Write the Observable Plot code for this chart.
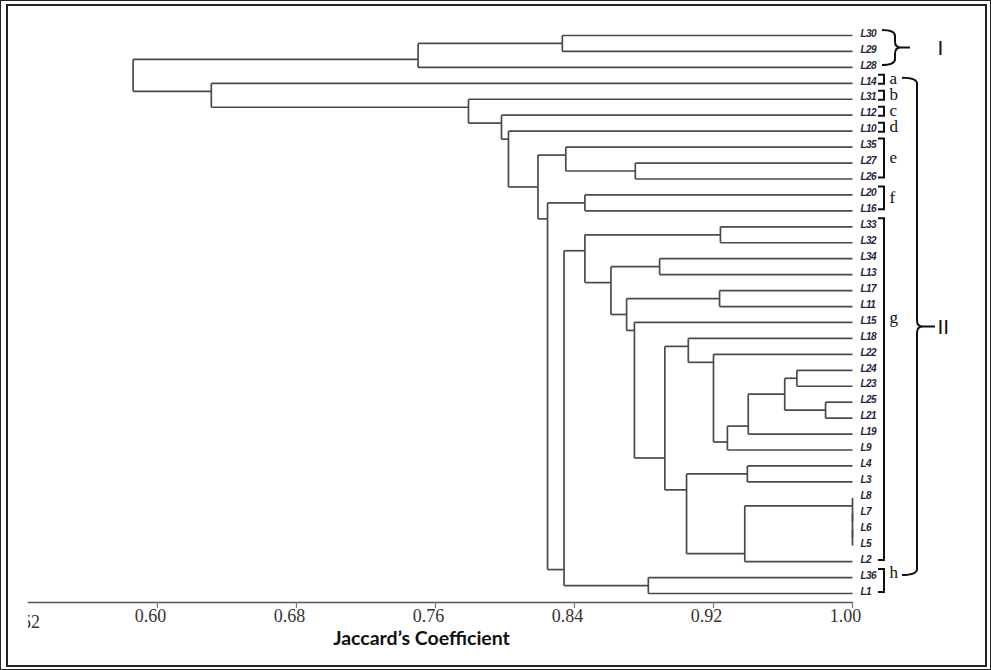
<!DOCTYPE html>
<html><head><meta charset="utf-8">
<script src="https://cdn.jsdelivr.net/npm/d3@7"></script>
<script src="https://cdn.jsdelivr.net/npm/@observablehq/plot@0.6"></script>
<style>
html,body{margin:0;padding:0;background:#fff;}
#wrap{position:relative;width:991px;height:670px;overflow:hidden;}
#wrap svg{position:absolute;left:0;top:0;}
.b1{position:absolute;left:0;top:0;width:991px;height:670px;box-sizing:border-box;border:1px solid #222;pointer-events:none;}
.b2{position:absolute;left:6px;top:4px;right:4px;bottom:3px;border:2px solid #222;pointer-events:none;}
.leaflabels text{letter-spacing:-0.6px;}
</style></head><body><div id="wrap"></div>
<script>
// Leaf order, top to bottom
const leaves = ["L30","L29","L28","L14","L31","L12","L10","L35","L27","L26","L20","L16",
  "L33","L32","L34","L13","L17","L11","L15","L18","L22","L24","L23","L25","L21","L19","L9",
  "L4","L3","L8","L7","L6","L5","L2","L36","L1"];
// Merges: [node, first child, second child, Jaccard similarity]
const merges = [
  ["n1","L30","L29",0.833],
  ["I","n1","L28",0.750],
  ["n2","L27","L26",0.875],
  ["e","L35","n2",0.835],
  ["f","L20","L16",0.846],
  ["n3","L33","L32",0.924],
  ["n4","L34","L13",0.889],
  ["n5","L17","L11",0.9235],
  ["n6","L24","L23",0.968],
  ["n7","L25","L21",0.9845],
  ["n8","n6","n7",0.961],
  ["n9","n8","L19",0.940],
  ["n10","n9","L9",0.928],
  ["n11","L22","n10",0.920],
  ["n12","L18","n11",0.9055],
  ["n13","L4","L3",0.9395],
  ["n14","L6","L5",1.00],
  ["n15","L7","n14",1.00],
  ["n16","L8","n15",1.00],
  ["n17","n16","L2",0.938],
  ["n18","n13","n17",0.9045],
  ["n19","n12","n18",0.892],
  ["n20","L15","n19",0.8745],
  ["n21","n5","n20",0.870],
  ["n22","n4","n21",0.861],
  ["g","n3","n22",0.846],
  ["h","L36","L1",0.8825],
  ["n23","g","h",0.834],
  ["n24","f","n23",0.8245],
  ["n25","e","n24",0.819],
  ["n26","L10","n25",0.802],
  ["n27","L12","n26",0.798],
  ["n28","L31","n27",0.779],
  ["II","L14","n28",0.631],
  ["root","I","II",0.586]
];
const groups = [
  {label:"a", first:"L14", last:"L14"},
  {label:"b", first:"L31", last:"L31"},
  {label:"c", first:"L12", last:"L12"},
  {label:"d", first:"L10", last:"L10"},
  {label:"e", first:"L35", last:"L26"},
  {label:"f", first:"L20", last:"L16"},
  {label:"g", first:"L33", last:"L2", at:"L15"},
  {label:"h", first:"L36", last:"L1", at:"L36"}
];
const clusters = [
  {label:"I", first:"L30", last:"L28"},
  {label:"II", first:"L14", last:"L36"}
];
const ticks = [0.60, 0.68, 0.76, 0.84, 0.92, 1.00];
const hiddenTick = "0.52";
const xLabel = "Jaccard’s Coefficient";

// Build dendrogram segments
const row = new Map(leaves.map((d, i) => [d, i]));
const info = new Map(leaves.map((d, i) => [d, {x: 1, y: i, first: i, last: i}]));
const segs = [];
for (const [id, a, b, s] of merges) {
  const A = info.get(a), B = info.get(b);
  segs.push({x1: s, x2: s, y1: A.y, y2: B.y});
  segs.push({x1: A.x, x2: s, y1: A.y, y2: A.y});
  segs.push({x1: B.x, x2: s, y1: B.y, y2: B.y});
  info.set(id, {x: s, y: (A.last + B.first) / 2, first: A.first, last: B.last});
}

function brackets(index, {x, y}) {
  const X = x(1);
  const g = d3.create("svg:g").attr("fill", "none").attr("stroke", "#111").attr("stroke-width", 2);
  for (const d of groups) {
    const y0 = y(row.get(d.first)) - 8;
    const y1 = y(row.get(d.last)) + (d.first === d.last ? 1 : -1);
    g.append("path").attr("d", `M${X+26},${y0}H${X+32}V${y1}H${X+26}`);
  }
  clusters.forEach((d, k) => {
    const top = y(row.get(d.first)) - 5, bot = y(row.get(d.last)) - 2, mid = (top + bot) / 2;
    const [a, s, t] = k === 0 ? [X+30, X+43, X+58] : [X+50, X+65, X+83];
    const r = 6;
    g.append("path").attr("d",
      `M${a},${top}Q${s},${top} ${s},${top+r}V${mid-r}Q${s},${mid} ${s+r},${mid}` +
      `Q${s},${mid} ${s},${mid+r}V${bot-r}Q${s},${bot} ${a},${bot}M${s+r},${mid}H${t}`);
  });
  return g.node();
}

function clippedTick(index, scales, values, dims) {
  const g = d3.create("svg:g");
  const left = dims.marginLeft, top = dims.height - dims.marginBottom;
  g.append("clipPath").attr("id", "clip052").append("rect")
    .attr("x", left).attr("y", top).attr("width", 80).attr("height", dims.marginBottom);
  g.append("text").attr("clip-path", "url(#clip052)")
    .attr("x", left + 12).attr("y", top + 20).attr("dy", "0.32em")
    .attr("text-anchor", "end").attr("font-family", "'Liberation Serif', 'Times New Roman', serif")
    .attr("font-size", 18).attr("fill", "#333").text(hiddenTick);
  return g.node();
}

const chart = Plot.plot({
  width: 991, height: 670,
  marginLeft: 28, marginRight: 139, marginTop: 20, marginBottom: 68,
  x: {domain: [0.5258, 1], axis: null},
  y: {domain: [0, 35], range: [35, 593], axis: null},
  style: {background: "transparent", overflow: "visible"},
  marks: [
    Plot.link(segs, {x1: "x1", y1: "y1", x2: "x2", y2: "y2", stroke: "#4a4a4a", strokeWidth: 1.7}),
    Plot.text(leaves, {x: () => 1, y: (d, i) => i, text: d => d, dx: 8, dy: -2, textAnchor: "start",
      fontSize: 10, fontStyle: "italic", fontWeight: "bold", className: "leaflabels",
      fontFamily: "'Liberation Sans', Arial, sans-serif", fill: "#1c2640"}),
    Plot.frame({anchor: "bottom", stroke: "#555", strokeWidth: 1.5}),
    Plot.axisX({ticks, tickSize: 6, fill: "none", stroke: "#777", strokeWidth: 1.2, label: null}),
    Plot.text(ticks, {x: d => d, text: d => d.toFixed(2), frameAnchor: "bottom", dy: 19, dx: -7,
      fontFamily: "'Liberation Serif', 'Times New Roman', serif", fontSize: 18, fill: "#333"}),
    clippedTick,
    Plot.text([xLabel], {text: d => d, frameAnchor: "bottom", dx: -19, dy: 42,
      fontFamily: "Lato, 'Open Sans', sans-serif", fontWeight: "bold", fontSize: 19.5, fill: "#111"}),
    brackets,
    Plot.text(groups, {x: () => 1, y: d => d.at ? row.get(d.at) : (row.get(d.first) + row.get(d.last)) / 2,
      text: "label", dx: 37, dy: -5, textAnchor: "start",
      fontFamily: "'Liberation Serif', 'Times New Roman', serif", fontSize: 17, fill: "#111"}),
    Plot.text(clusters, {x: () => 1, y: d => (row.get(d.first) + row.get(d.last)) / 2,
      text: "label", dx: 85, dy: -3, textAnchor: "start",
      fontFamily: "'Liberation Sans', Arial, sans-serif", fontSize: 21, fill: "#111"})
  ]
});
const wrap = document.getElementById("wrap");
wrap.appendChild(chart);
const b1 = document.createElement("div"); b1.className = "b1"; wrap.appendChild(b1);
const b2 = document.createElement("div"); b2.className = "b2"; wrap.appendChild(b2);
</script>
</body></html>
